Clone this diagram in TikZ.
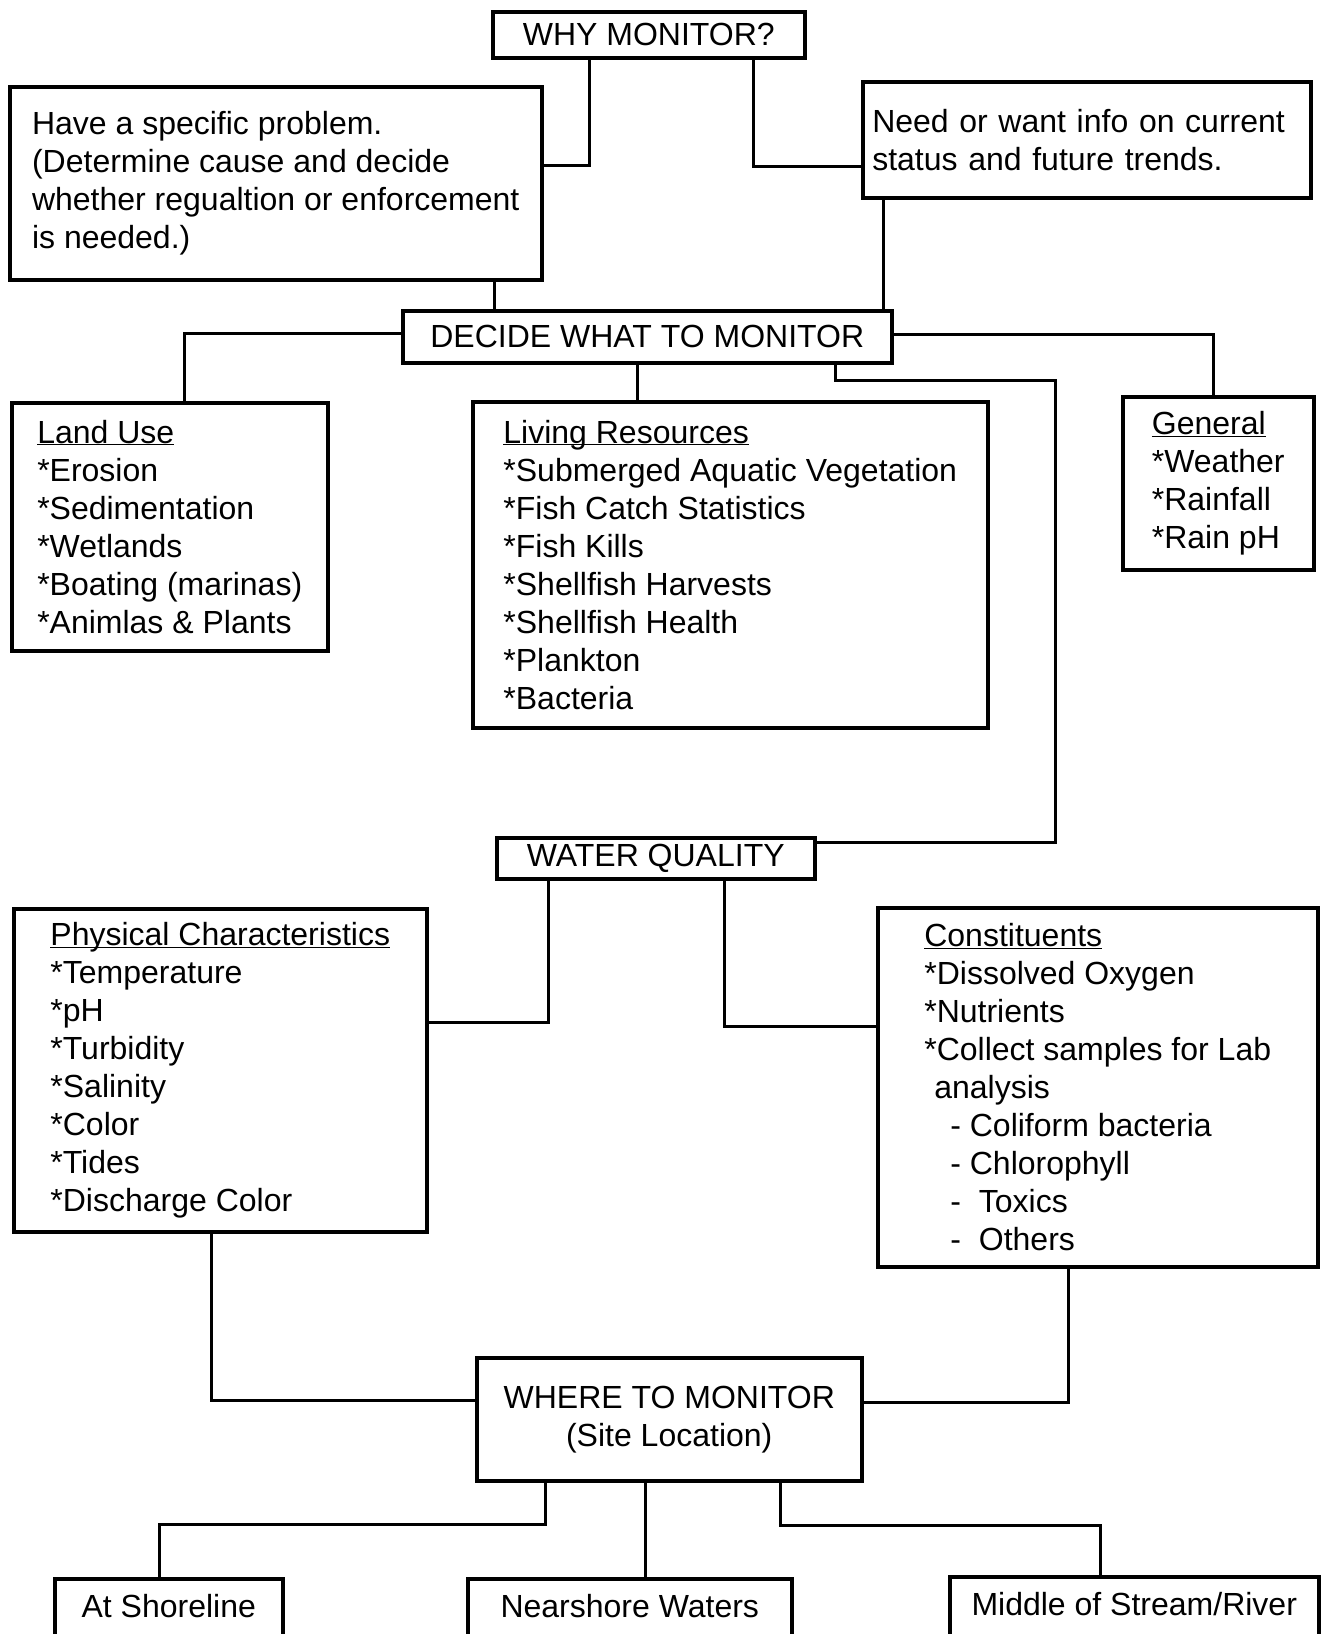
\documentclass[tikz,border=0pt]{standalone}
\usepackage{fontspec}
\setmainfont{Liberation Sans}
\usepackage{tikz}

\newcommand{\heading}[1]{\underline{\raisebox{0pt}[\height][0pt]{#1}}}

\begin{document}
\begin{tikzpicture}[x=1pt, y=-1pt,
    box/.style={draw, line width=3.5pt, anchor=north west, align=left, inner sep=0pt,
      font=\fontsize{32pt}{38pt}\selectfont},
    title/.style={box, align=center},
    leaf/.style={box, inner ysep=16pt, text depth=70pt},
    link/.style={line width=3pt}]

    \useasboundingbox (0,0) rectangle (1321,1634);

    \node[title, minimum width=312pt, minimum height=46pt] (why) at (491,10) {WHY MONITOR?};
    \node[box, minimum width=532pt, minimum height=193pt] (problem) at (8,85)
      {Have a specific problem.\\(Determine cause and decide\\whether regualtion or enforcement\\is needed.)};
    \node[box, text width=429pt, minimum width=448pt, minimum height=116pt] (info) at (861,80)
      {Need or want info on current\\status and future trends.};

    \node[title, minimum width=489pt, minimum height=52pt] (decide) at (401,309) {DECIDE WHAT TO MONITOR};
    \node[box, minimum width=316pt, minimum height=248pt] (land) at (10,401)
      {\heading{Land Use}\\*Erosion\\*Sedimentation\\*Wetlands\\*Boating (marinas)\\*Animlas \& Plants};
    \node[box, minimum width=515pt, minimum height=326pt] (living) at (471,400)
      {\heading{Living Resources}\\*Submerged Aquatic Vegetation\\*Fish Catch Statistics\\*Fish Kills\\*Shellfish Harvests\\*Shellfish Health\\*Plankton\\*Bacteria};
    \node[box, minimum width=191pt, minimum height=173pt] (general) at (1121,395)
      {\heading{General}\\*Weather\\*Rainfall\\*Rain pH};

    \node[title, minimum width=318pt, minimum height=41pt] (water) at (495,836) {WATER QUALITY};
    \node[box, minimum width=413pt, minimum height=323pt] (physical) at (12,907)
      {\heading{Physical Characteristics}\\*Temperature\\*pH\\*Turbidity\\*Salinity\\*Color\\*Tides\\*Discharge Color};
    \node[box, minimum width=440pt, minimum height=359pt] (constituents) at (876,906)
      {\heading{Constituents}\\*Dissolved Oxygen\\*Nutrients\\*Collect samples for Lab\\\hspace*{10pt}analysis\\
       \hspace*{26pt}- Coliform bacteria\\\hspace*{26pt}- Chlorophyll\\\hspace*{26pt}- \hspace*{9pt}Toxics\\\hspace*{26pt}- \hspace*{9pt}Others};

    \node[title, minimum width=385pt, minimum height=123pt] (where) at (475,1356) {WHERE TO MONITOR\\(Site Location)};
    \node[leaf, minimum width=228pt] (shore) at (53,1577) {At Shoreline};
    \node[leaf, minimum width=324pt] (near) at (466,1577) {Nearshore Waters};
    \node[leaf, minimum width=369pt] (middle) at (948,1575) {Middle of Stream/River};

    \draw[link] (why.south -| 589,0) |- (problem.east |- 0,165);
    \draw[link] (why.south -| 753,0) |- (info.west |- 0,166);
    \draw[link] (problem.south -| 494,0) -- (decide.north -| 494,0);
    \draw[link] (info.south -| 883,0) -- (decide.north -| 883,0);

    \draw[link] (decide.west |- 0,333) -| (land.north -| 184,0);
    \draw[link] (decide.south -| 637,0) -- (living.north -| 637,0);
    \draw[link] (decide.east |- 0,334) -| (general.north -| 1213,0);
    \draw[link] (decide.south -| 835,0) |- (1055,380) |- (water.east |- 0,842);

    \draw[link] (water.south -| 548,0) |- (physical.east |- 0,1022);
    \draw[link] (water.south -| 724,0) |- (constituents.west |- 0,1026);
    \draw[link] (physical.south -| 211,0) |- (where.west |- 0,1400);
    \draw[link] (constituents.south -| 1068,0) |- (where.east |- 0,1402);

    \draw[link] (where.south -| 545,0) |- (159,1524) -- (shore.north -| 159,0);
    \draw[link] (where.south -| 645,0) -- (near.north -| 645,0);
    \draw[link] (where.south -| 780,0) |- (1100,1525) -- (middle.north -| 1100,0);

\end{tikzpicture}
\end{document}
